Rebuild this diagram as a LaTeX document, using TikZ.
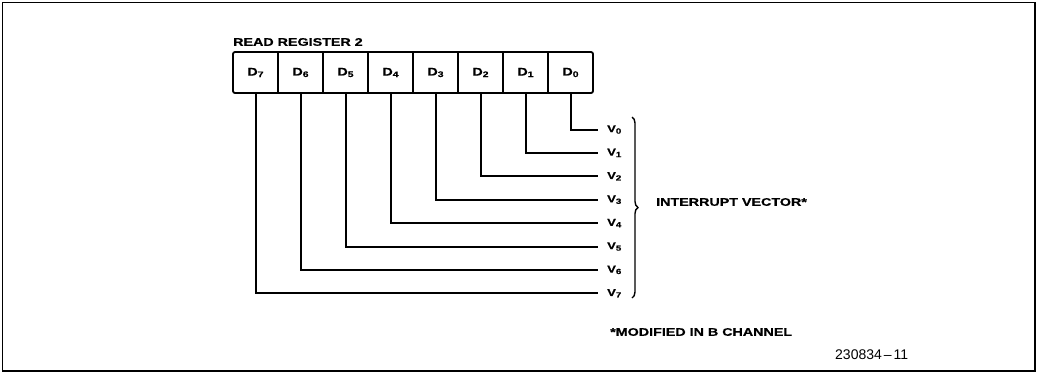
\documentclass[tikz,border=0pt]{standalone}
\usepackage{fontspec}
\setmainfont{Liberation Sans}
\newfontfamily\labfont{Liberation Sans}[FakeStretch=1.3,FakeBold=0.6]
\usetikzlibrary{decorations.pathreplacing}
\newcommand\subdig[1]{\raisebox{-1.5pt}{\fontsize{8}{8}\selectfont #1}}
\newcommand\vsubdig[1]{\raisebox{-1.5pt}{\fontsize{7.5}{7.5}\selectfont #1}}
\begin{document}
\begin{tikzpicture}[x=1pt,y=-1pt,
  cell/.style={minimum width=45pt,minimum height=41pt,inner sep=0pt,outer sep=0pt,
    font=\labfont\bfseries\fontsize{11}{12}\selectfont},
  wire/.style={line width=2pt},
  frame/.style={line width=1.6pt},
  vlab/.style={anchor=west,inner sep=0pt,font=\labfont\bfseries\fontsize{10}{10}\selectfont},
  lab/.style={anchor=west,inner sep=0pt,font=\labfont\bfseries\fontsize{11}{12}\selectfont},
  num/.style={anchor=west,inner sep=0pt,font=\fontsize{14}{15}\selectfont}]
\useasboundingbox (0,0) rectangle (1037,373);
\draw[frame] (2.5,2.5) rectangle (1035,371);
% register cells
\foreach \n [count=\i from 0] in {7,6,5,4,3,2,1,0}{
  \node[cell] (d\n) at (255.5+45*\i,72.5) {D\subdig{\n}};
}
\draw[frame,line width=1.8pt,rounded corners=2pt] (d7.north west) rectangle (d0.south east);
\foreach \n in {7,6,5,4,3,2,1}{
  \draw[frame,line width=1.8pt] (d\n.north east) -- (d\n.south east);
}
\node[lab] (title) at (233,42) {READ REGISTER 2};
% wires and vector labels
\foreach \n in {0,...,7}{
  \coordinate (v\n) at (598,129.5+23.4*\n);
  \draw[wire] (d\n.south) |- (v\n);
  \node[vlab] (vl\n) at (607,129.5+23.4*\n) {V\vsubdig{\n}};
}
\draw[line width=1.4pt,decorate,decoration={brace,amplitude=6pt}] (632,117) -- (632,298);
\node[lab] (iv) at (656,202) {INTERRUPT VECTOR*};
\node[lab] (note) at (610,332) {*MODIFIED IN B CHANNEL};
\node[num] (fig) at (835,355) {230834\kern2pt\textendash\kern2pt11};
\end{tikzpicture}
\end{document}
